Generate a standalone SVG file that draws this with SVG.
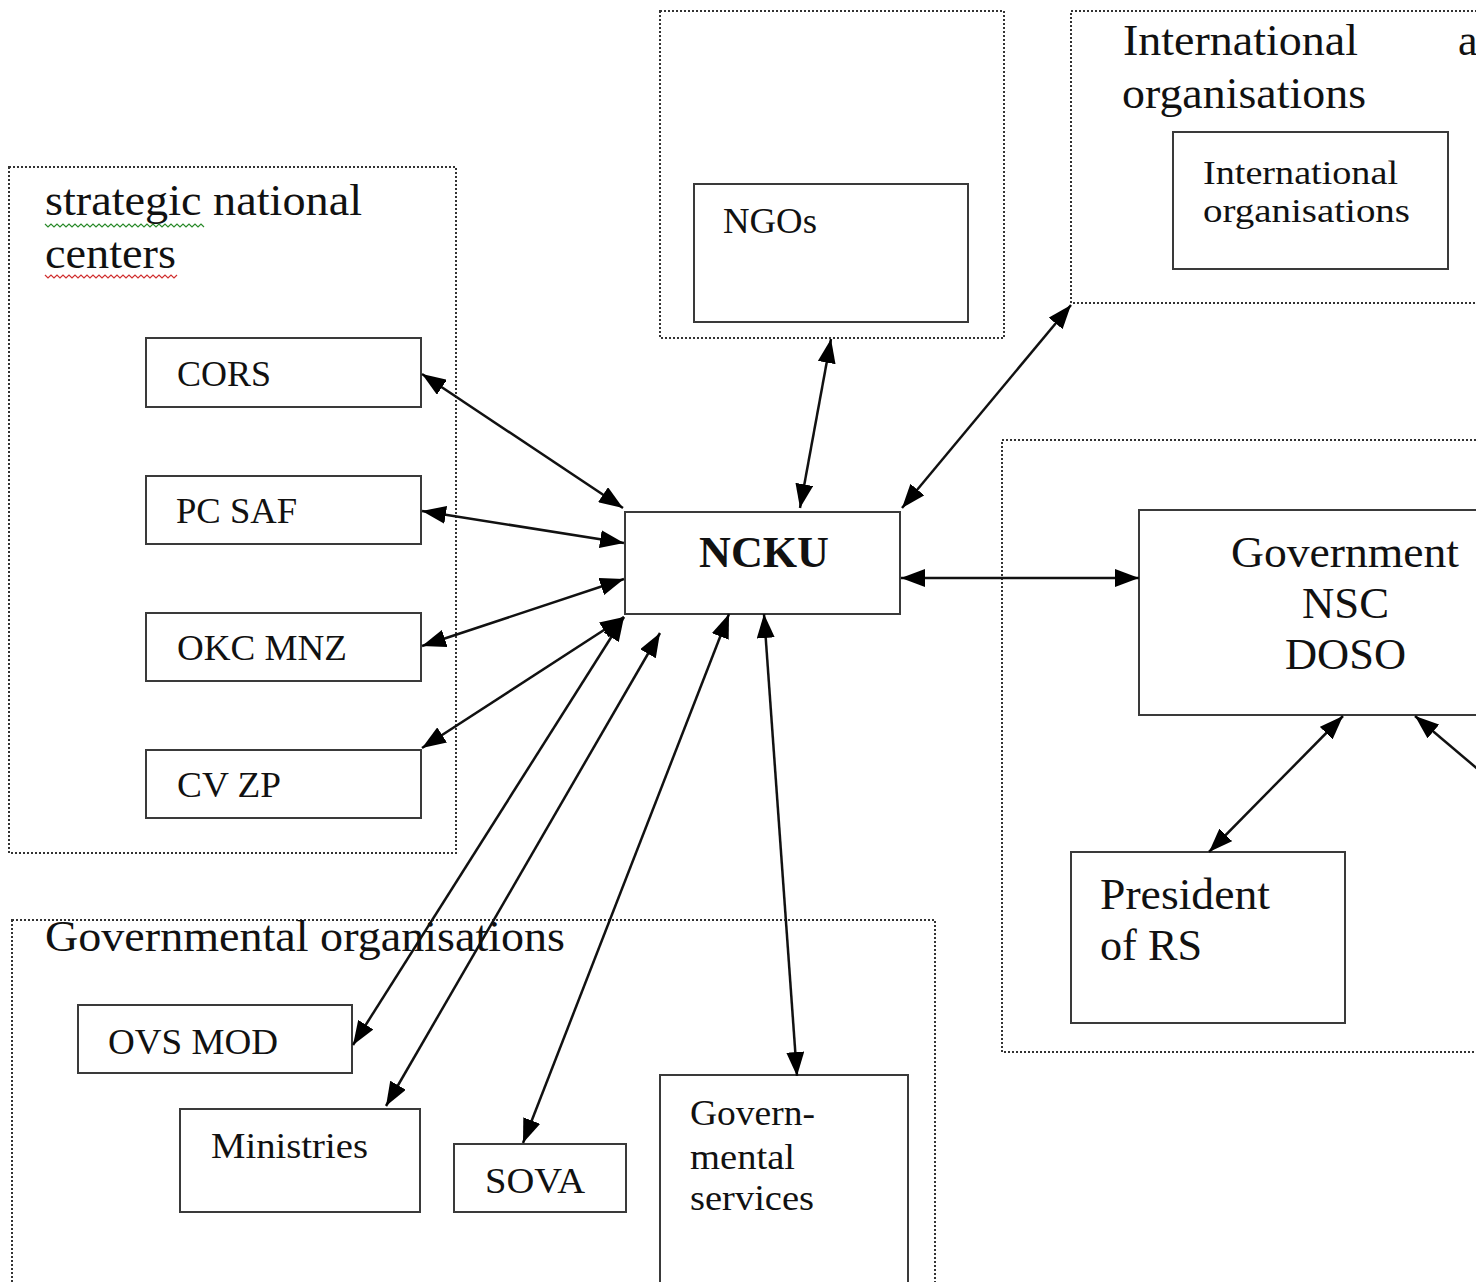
<svg xmlns="http://www.w3.org/2000/svg" width="1476" height="1282" viewBox="0 0 1476 1282">
<style>
.grp{fill:none;stroke:#333;stroke-width:2;stroke-dasharray:2 2}
.box{fill:#fff;stroke:#3a3a3a;stroke-width:2}
text{font-family:'Liberation Serif',Tinos,'Times New Roman',Times,'Nimbus Roman','Nimbus Roman No9 L',serif;fill:#111}
.l{font-size:44px}
.m{font-size:36px}
.s{font-size:33px}
.b{font-size:44px;font-weight:bold}
.c{stroke:#111;stroke-width:2.5;fill:none;marker-start:url(#ah);marker-end:url(#ah)}
.one{stroke:#111;stroke-width:2.5;fill:none;marker-end:url(#ah)}
</style>
<defs>
<marker id="ah" viewBox="0 0 24 18" refX="24" refY="9" markerWidth="24" markerHeight="18" markerUnits="userSpaceOnUse" orient="auto-start-reverse">
<path d="M0,0 L24,9 L0,18 z" fill="#000"/>
</marker>
</defs>
<rect width="1476" height="1282" fill="#fff"/>

<g id="group-strategic">
<rect class="grp" x="9" y="167" width="447" height="686"/>
<text class="l" x="45" y="215" textLength="317" lengthAdjust="spacingAndGlyphs">strategic national</text>
<text class="l" x="45" y="268" textLength="131" lengthAdjust="spacingAndGlyphs">centers</text>
<polyline fill="none" stroke="#2a8a2a" stroke-width="1.2" points="45,224 48,227 51,224 54,227 57,224 60,227 63,224 66,227 69,224 72,227 75,224 78,227 81,224 84,227 87,224 90,227 93,224 96,227 99,224 102,227 105,224 108,227 111,224 114,227 117,224 120,227 123,224 126,227 129,224 132,227 135,224 138,227 141,224 144,227 147,224 150,227 153,224 156,227 159,224 162,227 165,224 168,227 171,224 174,227 177,224 180,227 183,224 186,227 189,224 192,227 195,224 198,227 201,224 204,227"/>
<polyline fill="none" stroke="#d03030" stroke-width="1.2" points="45,275 48,278 51,275 54,278 57,275 60,278 63,275 66,278 69,275 72,278 75,275 78,278 81,275 84,278 87,275 90,278 93,275 96,278 99,275 102,278 105,275 108,278 111,275 114,278 117,275 120,278 123,275 126,278 129,275 132,278 135,275 138,278 141,275 144,278 147,275 150,278 153,275 156,278 159,275 162,278 165,275 168,278 171,275 174,278 177,275"/>
</g>
<g id="group-ngo"><rect class="grp" x="660" y="11" width="344" height="327"/></g>
<g id="group-international">
<rect class="grp" x="1071" y="11" width="420" height="292"/>
<text class="l" x="1123" y="55" textLength="235" lengthAdjust="spacingAndGlyphs">International</text>
<text class="l" x="1458" y="55">a</text>
<text class="l" x="1122" y="108" textLength="244" lengthAdjust="spacingAndGlyphs">organisations</text>
</g>
<g id="group-government"><rect class="grp" x="1002" y="440" width="490" height="612"/></g>
<g id="group-governmental">
<rect class="grp" x="12" y="920" width="923" height="380"/>
<text class="l" x="45" y="951" textLength="520" lengthAdjust="spacingAndGlyphs">Governmental organisations</text>
</g>

<g id="node-cors"><rect class="box" x="146" y="338" width="275" height="69"/><text class="m" x="177" y="386" textLength="94" lengthAdjust="spacingAndGlyphs">CORS</text></g>
<g id="node-pcsaf"><rect class="box" x="146" y="476" width="275" height="68"/><text class="m" x="176" y="523" textLength="121" lengthAdjust="spacingAndGlyphs">PC SAF</text></g>
<g id="node-okcmnz"><rect class="box" x="146" y="613" width="275" height="68"/><text class="m" x="177" y="660" textLength="170" lengthAdjust="spacingAndGlyphs">OKC MNZ</text></g>
<g id="node-cvzp"><rect class="box" x="146" y="750" width="275" height="68"/><text class="m" x="177" y="797" textLength="104" lengthAdjust="spacingAndGlyphs">CV ZP</text></g>
<g id="node-ngos"><rect class="box" x="694" y="184" width="274" height="138"/><text class="m" x="723" y="233" textLength="94" lengthAdjust="spacingAndGlyphs">NGOs</text></g>
<g id="node-intl"><rect class="box" x="1173" y="132" width="275" height="137"/><text class="s" x="1203" y="184" textLength="195" lengthAdjust="spacingAndGlyphs">International</text><text class="s" x="1203" y="222" textLength="207" lengthAdjust="spacingAndGlyphs">organisations</text></g>
<g id="node-ncku"><rect class="box" x="625" y="512" width="275" height="102"/><text class="b" x="699" y="567" textLength="130" lengthAdjust="spacingAndGlyphs">NCKU</text></g>
<g id="node-government"><rect class="box" x="1139" y="510" width="350" height="205"/><text class="l" x="1231" y="567" textLength="228" lengthAdjust="spacingAndGlyphs">Government</text><text class="l" x="1302" y="618" textLength="87" lengthAdjust="spacingAndGlyphs">NSC</text><text class="l" x="1285" y="669" textLength="121" lengthAdjust="spacingAndGlyphs">DOSO</text></g>
<g id="node-president"><rect class="box" x="1071" y="852" width="274" height="171"/><text class="l" x="1100" y="909" textLength="170" lengthAdjust="spacingAndGlyphs">President</text><text class="l" x="1100" y="960" textLength="102" lengthAdjust="spacingAndGlyphs">of RS</text></g>
<g id="node-ovsmod"><rect class="box" x="78" y="1005" width="274" height="68"/><text class="m" x="108" y="1054" textLength="170" lengthAdjust="spacingAndGlyphs">OVS MOD</text></g>
<g id="node-ministries"><rect class="box" x="180" y="1109" width="240" height="103"/><text class="m" x="211" y="1158" textLength="157" lengthAdjust="spacingAndGlyphs">Ministries</text></g>
<g id="node-sova"><rect class="box" x="454" y="1144" width="172" height="68"/><text class="m" x="485" y="1193" textLength="100" lengthAdjust="spacingAndGlyphs">SOVA</text></g>
<g id="node-services"><rect class="box" x="660" y="1075" width="248" height="210"/><text class="m" x="690" y="1125" textLength="125" lengthAdjust="spacingAndGlyphs">Govern-</text><text class="m" x="690" y="1169" textLength="105" lengthAdjust="spacingAndGlyphs">mental</text><text class="m" x="690" y="1210" textLength="124" lengthAdjust="spacingAndGlyphs">services</text></g>

<g id="connectors">
<line class="c" x1="422" y1="374" x2="623" y2="508"/>
<line class="c" x1="422" y1="511" x2="624" y2="543"/>
<line class="c" x1="422" y1="646" x2="624" y2="579"/>
<line class="c" x1="422" y1="748" x2="624" y2="617"/>
<line class="c" x1="353" y1="1045" x2="624" y2="617"/>
<line class="c" x1="386" y1="1106" x2="660" y2="633"/>
<line class="c" x1="523" y1="1143" x2="729" y2="614"/>
<line class="c" x1="797" y1="1076" x2="764" y2="614"/>
<line class="c" x1="800" y1="508" x2="831" y2="339"/>
<line class="c" x1="902" y1="508" x2="1071" y2="305"/>
<line class="c" x1="901" y1="578" x2="1139" y2="578"/>
<line class="c" x1="1209" y1="852" x2="1343" y2="716"/>
<line class="one" x1="1480" y1="771" x2="1415" y2="716"/>
</g>
</svg>
